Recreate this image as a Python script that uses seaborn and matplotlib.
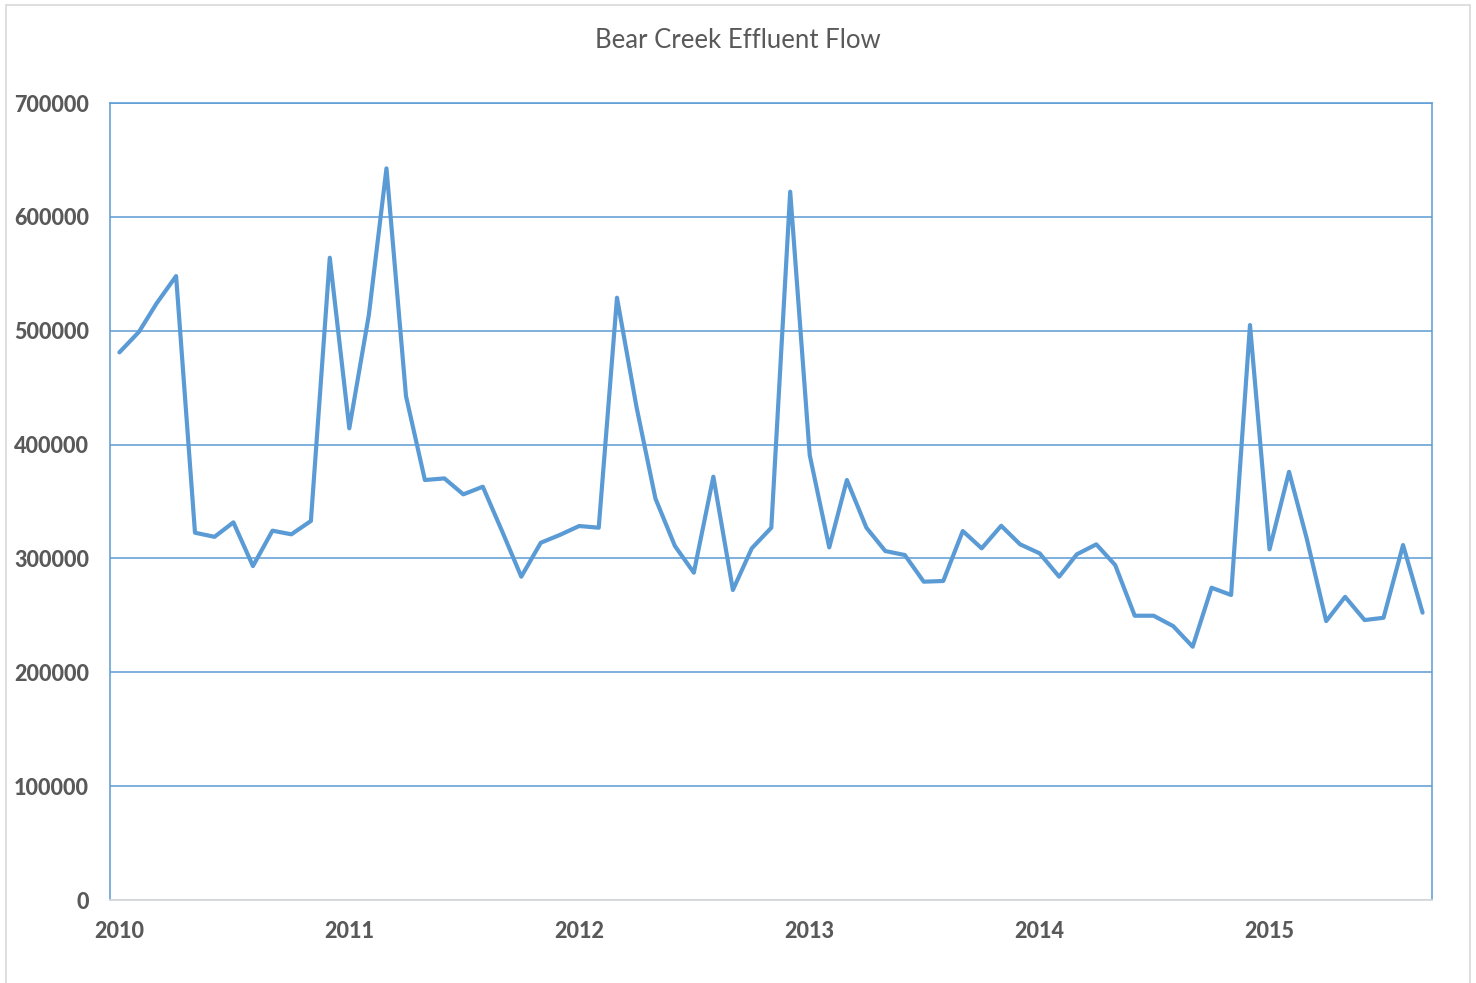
import numpy as np
import pandas as pd
import matplotlib
matplotlib.use("Agg")
import matplotlib.pyplot as plt
from matplotlib.patches import Rectangle
import seaborn as sns

# monthly effluent flow, Jan 2010 - Sep 2015
flow = [481000, 499000, 524000, 548000, 322600, 319000, 331700, 293300, 324400, 321200,
        332900, 564100, 414300, 513800, 642600, 442600, 368900, 370300, 356300, 363000,
        323400, 284000, 313800, 320600, 328500, 327000, 529000, 433000, 352700, 310900,
        287500, 371800, 272300, 308900, 327000, 622100, 390800, 309700, 368900, 327000,
        306500, 303000, 279600, 280200, 324100, 308900, 328700, 312400, 304500, 284000,
        303600, 312400, 294200, 249700, 249700, 240600, 222500, 274300, 267900, 505000,
        308000, 376100, 317700, 245000, 266300, 245900, 247900, 311800, 252400]
dates = pd.date_range("2010-01-01", periods=len(flow), freq="MS")
years = [2010, 2011, 2012, 2013, 2014, 2015]
yticks = [0, 100000, 200000, 300000, 400000, 500000, 600000, 700000]

df = pd.DataFrame({"date": dates, "flow": flow})

sns.set_style("white")
plt.rcParams["font.family"] = ["Lato", "DejaVu Sans"]

blue = "#5B9BD5"
grey_txt = "#595959"

fig = plt.figure(figsize=(14.76, 9.83), dpi=100)
ax = fig.add_axes([0.0745, 0.0844, 0.8957, 0.8108])

sns.lineplot(data=df, x="date", y="flow", ax=ax, color=blue, linewidth=3.0)

ax.set_ylim(0, 700000)
ax.set_yticks(yticks)
ax.set_yticklabels([str(v) for v in yticks])
ax.set_xlim(dates[0] - pd.Timedelta(days=15), dates[-1] + pd.Timedelta(days=15))
ax.set_xticks([pd.Timestamp(f"{y}-01-01") for y in years])
ax.set_xticklabels([str(y) for y in years])

ax.grid(axis="y", color=blue, linewidth=1.1)
ax.set_axisbelow(True)
ax.tick_params(length=0, labelsize=15.5, labelcolor=grey_txt)
ax.tick_params(axis="y", pad=15)
ax.tick_params(axis="x", pad=15)
for lab in ax.get_xticklabels() + ax.get_yticklabels():
    lab.set_fontweight("black")

for side in ["left", "right", "top"]:
    ax.spines[side].set_color(blue)
    ax.spines[side].set_linewidth(1.1)
ax.spines["bottom"].set_color("#D9D9D9")
ax.spines["bottom"].set_linewidth(1.3)

ax.set_xlabel("")
ax.set_ylabel("")

fig.text(0.5, 0.9593, "Bear Creek Effluent Flow", ha="center", va="center",
         fontsize=18.5, color=grey_txt)

# light frame around the chart area
fig.patches.append(Rectangle((0.004, -0.01), 0.992, 1.005, transform=fig.transFigure,
                             fill=False, edgecolor="#D9D9D9", linewidth=1.2))

fig.savefig("out.png", dpi=100)
